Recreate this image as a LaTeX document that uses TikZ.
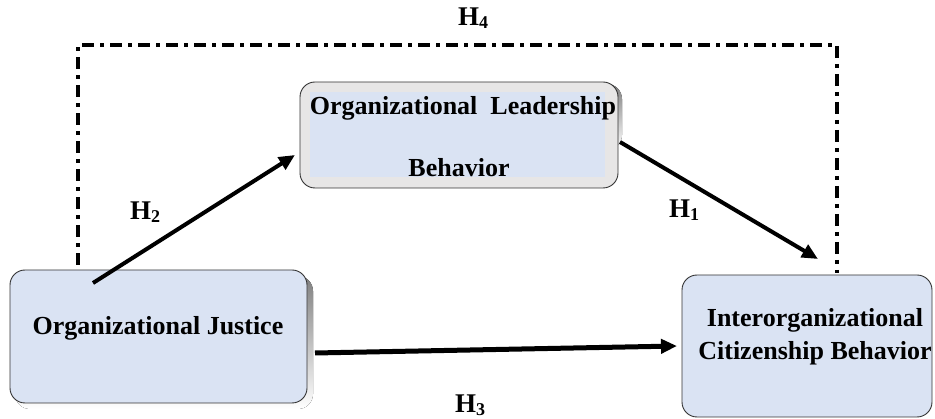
\documentclass[tikz,border=0pt]{standalone}
\usepackage{fontspec}
\setmainfont{Liberation Serif}
\usetikzlibrary{arrows.meta}
\definecolor{boxblue}{HTML}{DAE3F3}
\definecolor{boxgray}{HTML}{E7E6E6}
\definecolor{shade}{HTML}{1F2B4A}
\tikzset{
  boxtxt/.style={font=\fontsize{26}{28}\selectfont\bfseries, inner sep=0pt, align=center},
  hlab/.style={font=\fontsize{27}{29}\selectfont\bfseries, inner sep=0pt},
  conn/.style={line width=4pt, -{Triangle[length=16pt,width=14pt]}},
  frame/.style={draw=black!80, line width=0.9pt, rounded corners=15pt},
}
\newcommand{\hsub}[1]{H\raisebox{-3pt}{\fontsize{18}{18}\selectfont #1}}
\begin{document}
\begin{tikzpicture}[x=1pt,y=-1pt]
\useasboundingbox (0,0) rectangle (935,419);
% H4 dash-dot frame
\coordinate (d1) at (78,265);
\coordinate (d2) at (78,45);
\coordinate (d3) at (837,45);
\coordinate (d4) at (837,273);
\draw[line width=4pt, dash pattern=on 12pt off 6pt on 4pt off 6pt] (d1) -- (d2) -- (d3) -- (d4);
% Organizational Justice
\fill[shade, rounded corners=15pt] (15,276) rectangle (313,409);
\node[frame, fill=boxblue, minimum width=297pt, minimum height=133pt] (oj) at (158.5,336.5) {};
\node[boxtxt] (ojt) at (158,328) {Organizational Justice};
% Organizational Leadership Behavior
\fill[shade, rounded corners=15pt] (305,84) rectangle (622,150);
\node[frame, fill=boxgray, minimum width=318pt, minimum height=106pt] (olb) at (459,135) {};
\fill[boxblue] (310,92) rectangle (605,177);
\node[boxtxt] (olbt1) at (463,108) {Organizational\ \ Leadership};
\node[boxtxt] (olbt2) at (459,168) {Behavior};
% Interorganizational Citizenship Behavior
\node[frame, fill=boxblue, minimum width=250pt, minimum height=142pt] (icb) at (807,346) {};
\node[boxtxt] (icbt1) at (815,320) {Interorganizational};
\node[boxtxt] (icbt2) at (815,353) {Citizenship Behavior};
% connectors
\coordinate (h2s) at (93,283);
\coordinate (h2e) at (295,155);
\coordinate (h1s) at (620,142);
\coordinate (h1e) at (818,259);
\coordinate (h3s) at (315,353);
\coordinate (h3e) at (677,346);
\draw[conn] (h2s) -- (h2e);
\draw[conn] (h1s) -- (h1e);
\draw[conn, line width=5pt] (h3s) -- (h3e);
% labels
\node[hlab] (l4) at (473,18) {\hsub{4}};
\node[hlab] (l2) at (145,212) {\hsub{2}};
\node[hlab] (l1) at (684,210) {\hsub{1}};
\node[hlab] (l3) at (470,405) {\hsub{3}};
\end{tikzpicture}
\end{document}
